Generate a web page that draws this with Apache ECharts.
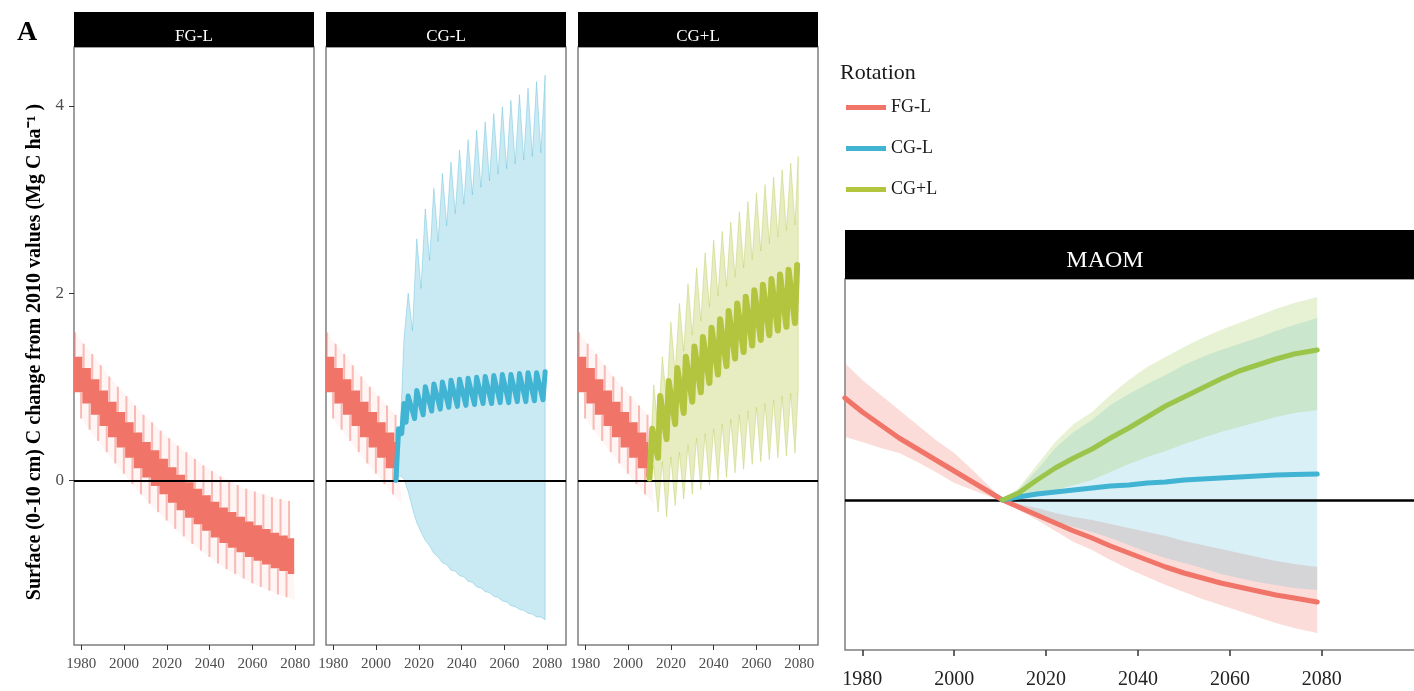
<!DOCTYPE html>
<html>
<head>
<meta charset="utf-8">
<script src="https://cdn.jsdelivr.net/npm/echarts@6/dist/echarts.min.js"></script>
<style>
  html, body { margin: 0; padding: 0; background: #fff; }
  #chart { width: 1414px; height: 691px; }
</style>
</head>
<body>
<div id="chart"></div>
<script>
// ---- tick labels / facets ----
const xTicks = [1980, 2000, 2020, 2040, 2060, 2080];
const yTicks = [0, 2, 4];
const rotations = ['FG-L', 'CG-L', 'CG+L'];

// ---- FG-L surface C, one entry per 4-yr rotation cycle (start year) ----
const redCycle = [1976.5, 1980.5, 1984.5, 1988.5, 1992.5, 1996.5, 2000.5, 2004.5, 2008.5, 2012.5, 2016.5, 2020.5, 2024.5,
  2028.5, 2032.5, 2036.5, 2040.5, 2044.5, 2048.5, 2052.5, 2056.5, 2060.5, 2064.5, 2068.5, 2072.5, 2076.5];
const redHi = [1.32, 1.20, 1.08, 0.96, 0.84, 0.73, 0.62, 0.51, 0.41, 0.32, 0.23, 0.14, 0.06,
  -0.02, -0.09, -0.16, -0.23, -0.29, -0.34, -0.39, -0.44, -0.48, -0.52, -0.56, -0.59, -0.62];
const redLo = [0.94, 0.82, 0.70, 0.58, 0.46, 0.35, 0.24, 0.13, 0.03, -0.06, -0.15, -0.24, -0.32,
  -0.40, -0.47, -0.54, -0.61, -0.67, -0.72, -0.77, -0.82, -0.86, -0.90, -0.94, -0.97, -1.00];
const redTipHi = [1.58, 1.46, 1.35, 1.23, 1.11, 1.00, 0.90, 0.80, 0.70, 0.62, 0.53, 0.45, 0.37,
  0.30, 0.23, 0.16, 0.10, 0.04, 0.00, -0.05, -0.09, -0.12, -0.15, -0.18, -0.20, -0.22];
const redTipLo = [0.66, 0.54, 0.42, 0.30, 0.18, 0.07, -0.04, -0.15, -0.25, -0.34, -0.43, -0.52, -0.60,
  -0.68, -0.75, -0.82, -0.89, -0.95, -1.00, -1.05, -1.10, -1.14, -1.18, -1.22, -1.25, -1.28];

// ---- CG-L ----
const blueLineX = [2009.3, 2010.5, 2012, 2013, 2014, 2015, 2018, 2019, 2022, 2023, 2026, 2027, 2030, 2031, 2034, 2035,
  2038, 2039, 2042, 2043, 2046, 2047, 2050, 2051, 2054, 2055, 2058, 2059, 2062, 2063, 2066, 2067, 2070, 2071, 2074, 2075, 2078, 2079];
const blueLine = [0.0, 0.55, 0.5, 0.82, 0.62, 0.9, 0.66, 0.96, 0.7, 1.0, 0.74, 1.03, 0.76, 1.05, 0.78, 1.07,
  0.79, 1.08, 0.8, 1.09, 0.81, 1.1, 0.82, 1.11, 0.82, 1.12, 0.83, 1.13, 0.83, 1.13, 0.84, 1.14, 0.84, 1.15, 0.85, 1.15, 0.86, 1.16];
const blueBandX = [2009.5, 2011, 2013, 2015, 2017, 2019, 2021, 2023, 2025, 2027, 2029, 2031, 2033, 2035, 2037, 2039, 2041, 2043,
  2045, 2047, 2049, 2051, 2053, 2055, 2057, 2059, 2061, 2063, 2065, 2067, 2069, 2071, 2073, 2075, 2077, 2079];
const blueBandHi = [0.0, 0.35, 1.5, 2.0, 1.6, 2.58, 2.05, 2.9, 2.35, 3.12, 2.55, 3.28, 2.72, 3.4, 2.85, 3.53, 2.95, 3.64,
  3.05, 3.74, 3.13, 3.83, 3.2, 3.92, 3.27, 3.99, 3.33, 4.06, 3.38, 4.12, 3.42, 4.19, 3.46, 4.26, 3.5, 4.33];
const blueBandLo = [0.0, 0.05, 0.02, -0.12, -0.3, -0.45, -0.55, -0.64, -0.7, -0.78, -0.82, -0.88, -0.9, -0.96, -0.97, -1.02, -1.03, -1.08,
  -1.09, -1.14, -1.15, -1.19, -1.2, -1.24, -1.25, -1.29, -1.3, -1.34, -1.35, -1.38, -1.39, -1.42, -1.43, -1.46, -1.46, -1.49];

// ---- CG+L ----
const greenLineX = [2010, 2011.3, 2014, 2015, 2018, 2019, 2022, 2023, 2026, 2027, 2030, 2031, 2034, 2035, 2038, 2039, 2042, 2043,
  2046, 2047, 2050, 2051, 2054, 2055, 2058, 2059, 2062, 2063, 2066, 2067, 2070, 2071, 2074, 2075, 2078, 2079];
const greenLine = [0.02, 0.55, 0.24, 0.9, 0.44, 1.06, 0.6, 1.2, 0.72, 1.32, 0.84, 1.43, 0.94, 1.53, 1.04, 1.63, 1.13, 1.72,
  1.22, 1.81, 1.3, 1.89, 1.37, 1.96, 1.44, 2.03, 1.5, 2.09, 1.55, 2.15, 1.6, 2.2, 1.64, 2.25, 1.68, 2.3];
const greenBandX = [2009.8, 2012, 2014, 2016, 2018, 2020, 2022, 2024, 2026, 2028, 2030, 2032, 2034, 2036, 2038, 2040, 2042, 2044,
  2046, 2048, 2050, 2052, 2054, 2056, 2058, 2060, 2062, 2064, 2066, 2068, 2070, 2072, 2074, 2076, 2078, 2079.5];
const greenBandHi = [0.02, 1.02, 0.55, 1.32, 0.85, 1.69, 1.15, 1.89, 1.38, 2.1, 1.55, 2.27, 1.7, 2.43, 1.85, 2.57, 1.97, 2.66,
  2.07, 2.76, 2.17, 2.87, 2.27, 2.98, 2.36, 3.07, 2.45, 3.16, 2.53, 3.24, 2.6, 3.32, 2.67, 3.39, 2.73, 3.46];
const greenBandLo = [0.0, 0.15, -0.34, 0.2, -0.39, 0.25, -0.27, 0.3, -0.2, 0.38, -0.15, 0.45, -0.1, 0.5, -0.05, 0.55, 0.0, 0.6,
  0.03, 0.65, 0.08, 0.7, 0.12, 0.74, 0.17, 0.78, 0.2, 0.82, 0.22, 0.86, 0.24, 0.9, 0.26, 0.93, 0.29, 0.95];

// ---- MAOM ----
const maomRedX = [1976.2, 1980, 1984, 1988, 1992, 1996, 2000, 2004, 2008, 2010.5, 2014, 2018, 2022, 2026,
  2030, 2034, 2038, 2042, 2046, 2050, 2054, 2058, 2062, 2066, 2070, 2074, 2079];
const maomRed = [1.02, 0.88, 0.75, 0.62, 0.51, 0.40, 0.29, 0.18, 0.07, 0.0, -0.07, -0.15, -0.23, -0.31,
  -0.38, -0.46, -0.53, -0.60, -0.67, -0.73, -0.78, -0.83, -0.87, -0.91, -0.95, -0.98, -1.02];
const maomRedHi = [1.37, 1.2, 1.05, 0.9, 0.75, 0.6, 0.47, 0.3, 0.12, 0.0, -0.04, -0.08, -0.13, -0.17,
  -0.2, -0.24, -0.28, -0.32, -0.36, -0.41, -0.45, -0.49, -0.53, -0.57, -0.61, -0.64, -0.67];
const maomRedLo = [0.63, 0.58, 0.52, 0.47, 0.38, 0.28, 0.17, 0.1, 0.03, 0.0, -0.1, -0.2, -0.31, -0.42,
  -0.5, -0.6, -0.69, -0.77, -0.85, -0.92, -0.99, -1.05, -1.11, -1.17, -1.23, -1.28, -1.33];
const maomX = [2010.5, 2014, 2018, 2022, 2026, 2030, 2034, 2038, 2042, 2046, 2050, 2054, 2058, 2062, 2066, 2070, 2074, 2079];
const maomBlue = [0.0, 0.03, 0.06, 0.08, 0.1, 0.12, 0.14, 0.15, 0.17, 0.18, 0.2, 0.21, 0.22, 0.23, 0.24, 0.25, 0.255, 0.26];
const maomBlueHi = [0.0, 0.1, 0.3, 0.52, 0.68, 0.8, 0.95, 1.06, 1.16, 1.25, 1.35, 1.43, 1.5, 1.56, 1.62, 1.69, 1.75, 1.82];
const maomBlueLo = [0.0, -0.08, -0.16, -0.22, -0.27, -0.32, -0.38, -0.45, -0.52, -0.58, -0.63, -0.68, -0.74, -0.78, -0.82, -0.85, -0.88, -0.9];
const maomGreen = [0.0, 0.07, 0.2, 0.32, 0.42, 0.51, 0.62, 0.72, 0.83, 0.94, 1.03, 1.12, 1.21, 1.29, 1.35, 1.41, 1.46, 1.5];
const maomGreenHi = [0.0, 0.12, 0.35, 0.58, 0.76, 0.88, 1.05, 1.2, 1.33, 1.43, 1.53, 1.62, 1.7, 1.77, 1.84, 1.91, 1.97, 2.03];
const maomGreenLo = [0.0, 0.02, 0.05, 0.1, 0.15, 0.2, 0.28, 0.36, 0.43, 0.49, 0.56, 0.62, 0.68, 0.73, 0.78, 0.83, 0.87, 0.9];

// ---- styling ----
const FONT = '"Liberation Serif", "Times New Roman", serif';
const RED = '#F07468';
const BLUE = '#41B3D3';
const GREEN = '#B3C43E';
const GREEN_M = '#9BC44A';

const leftGrids = [
  { left: 74, top: 47, width: 240, height: 598 },
  { left: 326, top: 47, width: 240, height: 598 },
  { left: 578, top: 47, width: 240, height: 598 },
];
const maomGrid = { left: 845, top: 279, width: 571, height: 371 };

// polygon ring: edge A forward, edge B backward
function ring(xsA, a, xsB, b) {
  const pts = xsA.map((x, i) => [x, a[i]]);
  for (let i = xsB.length - 1; i >= 0; i--) pts.push([xsB[i], b[i]]);
  return pts;
}
// stepped band (value held through each cycle)
function stepRing(xs, hi, lo, end) {
  const up = [], dn = [];
  xs.forEach((x, i) => {
    const nx = i < xs.length - 1 ? xs[i + 1] : end;
    up.push([x, hi[i]], [nx, hi[i]]);
    dn.push([x, lo[i]], [nx, lo[i]]);
  });
  return up.concat(dn.reverse());
}
function polygon(g, pts, fill, stroke, z, name) {
  return {
    type: 'custom', name: name, xAxisIndex: g, yAxisIndex: g, silent: true, z: z, clip: true,
    data: [pts[0]], encode: { x: 0, y: 1 },
    renderItem: (p, api) => ({
      type: 'polygon',
      shape: { points: pts.map(d => api.coord(d)) },
      style: { fill: fill, stroke: stroke || null, lineWidth: stroke ? 1 : 0 }
    })
  };
}
function spikes(g, rows, color, z) {
  return {
    type: 'custom', xAxisIndex: g, yAxisIndex: g, silent: true, z: z, clip: true,
    data: rows, encode: { x: 0, y: [1, 2] },
    renderItem: (p, api) => {
      const a = api.coord([api.value(0), api.value(1)]);
      const b = api.coord([api.value(0), api.value(2)]);
      return { type: 'line', shape: { x1: a[0], y1: a[1], x2: b[0], y2: b[1] },
        style: { stroke: color, lineWidth: 2 } };
    }
  };
}
function line(g, name, xs, ys, color, width, z) {
  return {
    type: 'line', name: name, xAxisIndex: g, yAxisIndex: g, silent: true, z: z,
    data: xs.map((x, i) => [x, ys[i]]), showSymbol: false, symbol: 'none',
    lineStyle: { color: color, width: width, join: 'round', cap: 'round' },
    itemStyle: { color: color }
  };
}
function zeroLine(g, w) {
  return {
    type: 'line', xAxisIndex: g, yAxisIndex: g, data: [], z: 5, silent: true,
    markLine: { silent: true, symbol: ['none', 'none'], label: { show: false }, animation: false,
      lineStyle: { color: '#000', width: w, type: 'solid' }, data: [{ yAxis: 0 }] }
  };
}
// red history drawn up to `end`
function redSeries(g, end) {
  const idx = redCycle.map((x, i) => i).filter(i => redCycle[i] < end);
  const xs = idx.map(i => redCycle[i]);
  const up = idx.map(i => [redCycle[i] + 0.6, redHi[i], redTipHi[i]]).filter(r => r[0] <= end);
  const dn = idx.map(i => [redCycle[i] + 3.4, redLo[i], redTipLo[i]]).filter(r => r[0] <= end);
  return [
    polygon(g, ring(xs.map(x => x + 0.6), idx.map(i => redTipHi[i]), xs.map(x => x + 3.4), idx.map(i => redTipLo[i])),
      'rgba(240,116,104,0.07)', null, 1),
    spikes(g, up, 'rgba(240,116,104,0.45)', 2),
    spikes(g, dn, 'rgba(240,116,104,0.45)', 2),
    polygon(g, stepRing(xs, idx.map(i => redHi[i]), idx.map(i => redLo[i]), end), RED, null, 3, 'FG-L')
  ];
}

const series = [];
// FG-L
series.push(...redSeries(0, 2079.5), zeroLine(0, 2));
// CG-L
series.push(...redSeries(1, 2009.5),
  polygon(1, ring(blueBandX, blueBandHi, blueBandX, blueBandLo), 'rgba(65,179,211,0.28)', 'rgba(65,179,211,0.35)', 2),
  zeroLine(1, 2),
  line(1, 'CG-L', blueLineX, blueLine, BLUE, 5, 6));
// CG+L
series.push(...redSeries(2, 2009.5),
  polygon(2, ring(greenBandX, greenBandHi, greenBandX, greenBandLo), 'rgba(179,196,62,0.32)', 'rgba(179,196,62,0.35)', 2),
  zeroLine(2, 2),
  line(2, 'CG+L', greenLineX, greenLine, GREEN, 6, 6));
// MAOM
series.push(
  polygon(3, ring(maomRedX, maomRedHi, maomRedX, maomRedLo), 'rgba(240,116,104,0.25)', null, 2),
  polygon(3, ring(maomX, maomBlueHi, maomX, maomBlueLo), 'rgba(65,179,211,0.2)', null, 2),
  polygon(3, ring(maomX, maomGreenHi, maomX, maomGreenLo), 'rgba(160,200,80,0.25)', null, 2),
  zeroLine(3, 2.5),
  line(3, 'FG-L', maomRedX, maomRed, RED, 5, 6),
  line(3, 'CG-L', maomX, maomBlue, BLUE, 5, 6),
  line(3, 'CG+L', maomX, maomGreen, GREEN_M, 5, 6));

const grid = leftGrids.concat([maomGrid]).map(g => Object.assign({
  show: true, borderColor: '#7f7f7f', borderWidth: 1.5, backgroundColor: '#fff',
  containLabel: false, outerBoundsMode: 'none'
}, g));

const yearLabel = v => String(v);
const xAxis = [], yAxis = [];
leftGrids.forEach((g, i) => {
  xAxis.push({
    type: 'value', gridIndex: i, min: 1976.6, max: 2088.75,
    axisLine: { show: false, onZero: false }, splitLine: { show: false },
    axisTick: { show: true, length: 5, lineStyle: { color: '#333' }, customValues: xTicks },
    axisLabel: { customValues: xTicks, formatter: yearLabel, fontFamily: FONT, fontSize: 15, color: '#4d4d4d', margin: 12 }
  });
  yAxis.push({
    type: 'value', gridIndex: i, min: -1.76, max: 4.63,
    axisLine: { show: false, onZero: false }, splitLine: { show: false },
    axisTick: { show: i === 0, length: 5, lineStyle: { color: '#333' }, customValues: yTicks },
    axisLabel: { show: i === 0, customValues: yTicks, fontFamily: FONT, fontSize: 17, color: '#4d4d4d', margin: 10 }
  });
});
xAxis.push({
  type: 'value', gridIndex: 3, min: 1976.23, max: 2100.5,
  axisLine: { show: false, onZero: false }, splitLine: { show: false },
  axisTick: { show: true, length: 6, lineStyle: { color: '#333', width: 1.5 }, customValues: xTicks },
  axisLabel: { customValues: xTicks, formatter: yearLabel, fontFamily: FONT, fontSize: 20, color: '#222', margin: 20 }
});
yAxis.push({
  type: 'value', gridIndex: 3, min: -1.5, max: 2.21,
  axisLine: { show: false, onZero: false }, splitLine: { show: false }, axisTick: { show: false }, axisLabel: { show: false }
});

const graphic = [];
leftGrids.forEach((g, i) => {
  graphic.push({ type: 'rect', shape: { x: g.left, y: 12, width: g.width, height: 35 }, style: { fill: '#000' }, z: 10 });
  graphic.push({ type: 'text', x: g.left + g.width / 2, y: 37, z: 11,
    style: { text: rotations[i], fill: '#fff', font: '17px ' + FONT, textAlign: 'center', align: 'center',
      textVerticalAlign: 'middle', verticalAlign: 'middle' } });
});
graphic.push(
  { type: 'rect', shape: { x: maomGrid.left, y: 230, width: maomGrid.width, height: 49 }, style: { fill: '#000' }, z: 10 },
  { type: 'text', x: 1105, y: 261, z: 11,
    style: { text: 'MAOM', fill: '#fff', font: '24px ' + FONT, textAlign: 'center', align: 'center',
      textVerticalAlign: 'middle', verticalAlign: 'middle' } },
  { type: 'text', x: 17, y: 33, z: 11,
    style: { text: 'A', fill: '#000', font: 'bold 28px ' + FONT, textAlign: 'left', align: 'left',
      textVerticalAlign: 'middle', verticalAlign: 'middle' } },
  { type: 'text', x: 35, y: 352, rotation: Math.PI / 2, z: 11,
    style: { text: 'Surface (0-10 cm) C change from 2010 values (Mg C ha\u207B\u00B9 )', fill: '#000',
      font: 'bold 20px ' + FONT, textAlign: 'center', align: 'center', textVerticalAlign: 'middle', verticalAlign: 'middle' } },
  { type: 'text', x: 840, y: 73, z: 11,
    style: { text: 'Rotation', fill: '#1a1a1a', font: '22px ' + FONT, textAlign: 'left', align: 'left',
      textVerticalAlign: 'middle', verticalAlign: 'middle' } }
);

const chart = echarts.init(document.getElementById('chart'));
chart.setOption({
  animation: false,
  backgroundColor: '#fff',
  textStyle: { fontFamily: FONT },
  grid: grid,
  xAxis: xAxis,
  yAxis: yAxis,
  legend: {
    orient: 'vertical', left: 841, top: 92, icon: 'rect', itemWidth: 40, itemHeight: 5, itemGap: 20,
    selectedMode: false, itemStyle: { borderWidth: 0 },
    textStyle: { fontFamily: FONT, fontSize: 18, color: '#1a1a1a', lineHeight: 21 },
    data: [
      { name: 'FG-L', itemStyle: { color: RED } },
      { name: 'CG-L', itemStyle: { color: BLUE } },
      { name: 'CG+L', itemStyle: { color: GREEN } }
    ]
  },
  graphic: graphic,
  series: series
});
</script>
</body>
</html>
